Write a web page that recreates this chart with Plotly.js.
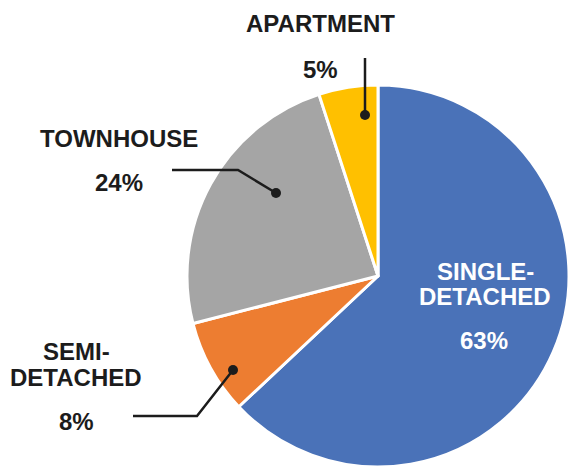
<!DOCTYPE html>
<html>
<head>
<meta charset="utf-8">
<script src="https://cdn.plot.ly/plotly-3.0.1.min.js"></script>
<style>html,body{margin:0;padding:0;background:#fff;}#chart{width:569px;height:468px;}</style>
</head>
<body>
<div id="chart"></div>
<script>
const categories = ['Single-detached', 'Semi-detached', 'Townhouse', 'Apartment'];
const shares = [63, 8, 24, 5];
const sliceColors = ['#4A72B8', '#ED7D31', '#A5A5A5', '#FFC000'];
const labelLines = [['SINGLE-', 'DETACHED'], ['SEMI-', 'DETACHED'], ['TOWNHOUSE'], ['APARTMENT']];

const W = 569, H = 468;
const px = x => x / W;
const py = y => 1 - y / H;

const FONT = 'Liberation Sans, Arial, sans-serif';
const dark = '#1c1c1c';

// label layout (pixel positions of text lines)
const labelPos = [
  {lines: [[485, 271], [485, 296]], pct: [484, 340], color: '#ffffff'},
  {lines: [[76, 351], [76, 377]], pct: [76, 421], color: dark},
  {lines: [[119, 138]], pct: [119, 183], color: dark},
  {lines: [[320, 23]], pct: [320, 69], color: dark}
];

const annotations = [];
categories.forEach((c, i) => {
  const p = labelPos[i];
  labelLines[i].forEach((t, j) => {
    annotations.push({
      xref: 'paper', yref: 'paper', x: px(p.lines[j][0]), y: py(p.lines[j][1]),
      xanchor: 'center', yanchor: 'middle', showarrow: false, text: t,
      font: {family: FONT, size: 24, weight: 'bold', color: p.color}
    });
  });
  annotations.push({
    xref: 'paper', yref: 'paper', x: px(p.pct[0]), y: py(p.pct[1]),
    xanchor: 'center', yanchor: 'middle', showarrow: false, text: shares[i] + '%',
    font: {family: FONT, size: 24, weight: 'bold', color: p.color}
  });
});

// leader lines
const leaders = [
  [[133, 416], [197, 416], [233, 370]],
  [[172, 170], [238, 170], [276, 193]],
  [[365, 58], [365, 115]]
];
const shapes = [];
leaders.forEach(pts => {
  let d = 'M ' + pts.map(p => px(p[0]) + ',' + py(p[1])).join(' L ');
  shapes.push({type: 'path', xref: 'paper', yref: 'paper', path: d, line: {color: dark, width: 2.5}});
  const e = pts[pts.length - 1];
  const r = 5;
  shapes.push({type: 'circle', xref: 'paper', yref: 'paper',
    x0: px(e[0] - r), x1: px(e[0] + r), y0: py(e[1] + r), y1: py(e[1] - r),
    fillcolor: dark, line: {color: dark, width: 0}});
});

const data = [{
  type: 'pie',
  labels: categories,
  values: shares,
  sort: false,
  direction: 'clockwise',
  rotation: 0,
  textinfo: 'none',
  hoverinfo: 'none',
  marker: {colors: sliceColors, line: {color: '#ffffff', width: 3}},
  domain: {x: [187 / W, 1], y: [1 / H, 383 / H]},
  showlegend: false
}];

const layout = {
  width: W, height: H,
  margin: {l: 0, r: 0, t: 0, b: 0},
  paper_bgcolor: '#ffffff',
  showlegend: false,
  annotations: annotations,
  shapes: shapes
};

Plotly.newPlot('chart', data, layout, {displayModeBar: false, staticPlot: true});
</script>
</body>
</html>
